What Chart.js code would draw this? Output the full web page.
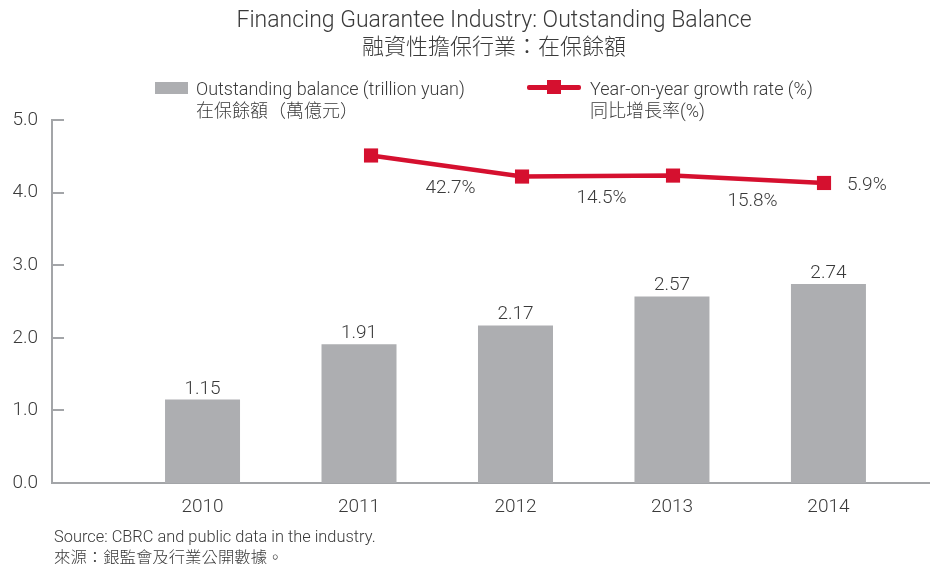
<!DOCTYPE html>
<html>
<head>
<meta charset="utf-8">
<script src="https://cdn.jsdelivr.net/npm/chart.js@4.4.1/dist/chart.umd.min.js"></script>
<style>
  html, body { margin: 0; padding: 0; background: #ffffff; }
  #wrap { position: relative; width: 930px; height: 564px; overflow: hidden; }
  #chart { position: absolute; left: 0; top: 0; }
  .t { position: absolute; white-space: nowrap; color: #3a3a3a;
       font-family: "Roboto", "Noto Sans CJK TC", "Noto Sans CJK SC", sans-serif; font-weight: 300; }
  .center { transform: translateX(-50%); text-align: center; }
  .sw { position: absolute; }
</style>
</head>
<body>
<div id="wrap">
  <canvas id="chart" width="930" height="564"></canvas>
  <div class="t center" style="left:494px; top:6px; font-size:23px; line-height:28px;">Financing Guarantee Industry: Outstanding Balance</div>
  <div class="t center" style="left:494px; top:34px; font-size:22px; line-height:26px;">融資性擔保行業：在保餘額</div>

  <div class="sw" style="left:155px; top:82px; width:33px; height:12px; background:#adaeb1;"></div>
  <div class="t" style="left:196px; top:78px; font-size:18px; line-height:22px;">Outstanding balance (trillion yuan)<br>在保餘額（萬億元）</div>

  <div class="sw" style="left:527px; top:85px; width:54px; height:5px; border-radius:2px; background:#d5102f;"></div>
  <div class="sw" style="left:547px; top:80px; width:14px; height:14px; background:#d5102f;"></div>
  <div class="t" style="left:590px; top:78px; font-size:18px; line-height:22px;">Year-on-year growth rate (%)<br>同比增長率(%)</div>

  <div class="t" style="left:54px; top:526px; font-size:16.4px; line-height:21px;">Source: CBRC and public data in the industry.<br>來源：銀監會及行業公開數據。</div>
</div>
<script>
const categories = ['2010', '2011', '2012', '2013', '2014'];
const years = [2010, 2011, 2012, 2013, 2014];
const balance = [1.15, 1.91, 2.17, 2.57, 2.74];
const growthYears = [2011, 2012, 2013, 2014];
const growth = [42.7, 14.5, 15.8, 5.9];
const yTicks = [0, 1, 2, 3, 4, 5];

const FONT = '"Roboto", "Noto Sans CJK TC", sans-serif';
const TEXT = '#3a3a3a';
const AXIS = '#a3a5a8';
const RED = '#d5102f';

const labelPlugin = {
  id: 'labels',
  afterDatasetsDraw(chart) {
    const ctx = chart.ctx;
    ctx.save();
    ctx.font = '300 19px ' + FONT;
    ctx.fillStyle = TEXT;
    ctx.textAlign = 'center';
    ctx.textBaseline = 'alphabetic';
    const bars = chart.getDatasetMeta(0).data;
    bars.forEach((el, i) => {
      ctx.fillText(balance[i].toFixed(2), el.x, el.y - 6);
    });
    const pts = chart.getDatasetMeta(1).data;
    pts.forEach((p, i) => {
      const txt = growth[i].toFixed(1) + '%';
      if (i < pts.length - 1) {
        const n = pts[i + 1];
        ctx.textAlign = 'center';
        ctx.fillText(txt, (p.x + n.x) / 2 + 4, (p.y + n.y) / 2 + 27);
      } else {
        ctx.textAlign = 'left';
        ctx.fillText(txt, p.x + 23, p.y + 7);
      }
    });
    ctx.restore();
  }
};

const inwardTicks = {
  id: 'inwardTicks',
  afterDraw(chart) {
    const ctx = chart.ctx;
    const y = chart.scales.y;
    const left = chart.chartArea.left;
    ctx.save();
    ctx.strokeStyle = AXIS;
    ctx.lineWidth = 2;
    yTicks.forEach(v => {
      const py = Math.round(y.getPixelForValue(v));
      ctx.beginPath();
      ctx.moveTo(left, py);
      ctx.lineTo(left + 12, py);
      ctx.stroke();
    });
    ctx.restore();
  }
};

new Chart(document.getElementById('chart'), {
  type: 'bar',
  data: {
    datasets: [
      {
        type: 'bar',
        data: years.map((x, i) => ({ x: x, y: balance[i] })),
        backgroundColor: '#adaeb1',
        grouped: false,
        maxBarThickness: 75,
        barPercentage: 0.9,
        categoryPercentage: 0.9,
        xAxisID: 'x',
        yAxisID: 'y',
        order: 2
      },
      {
        type: 'line',
        data: growthYears.map((x, i) => ({ x: x, y: growth[i] })),
        borderColor: RED,
        borderWidth: 4.5,
        pointStyle: 'rect',
        pointRadius: 10,
        pointBorderWidth: 0,
        pointBackgroundColor: RED,
        clip: false,
        xAxisID: 'x2',
        yAxisID: 'y2',
        order: 1
      }
    ]
  },
  options: {
    responsive: false,
    animation: false,
    events: [],
    layout: { autoPadding: false, padding: { top: 120, left: 0, right: 0, bottom: 0 } },
    plugins: { legend: { display: false }, tooltip: { enabled: false }, title: { display: false } },
    scales: {
      x: {
        type: 'linear',
        offset: false,
        min: 2009.038,
        max: 2014.649,
        afterBuildTicks: s => { s.ticks = years.map(v => ({ value: v })); },
        afterFit: s => { s.height = 81; },
        grid: { display: false, drawTicks: false, offset: false },
        border: { display: true, color: AXIS, width: 2 },
        ticks: {
          padding: 13,
          color: TEXT,
          font: { family: FONT, size: 19, weight: '300' },
          callback: v => categories[years.indexOf(v)]
        }
      },
      x2: {
        type: 'linear',
        display: false,
        offset: false,
        grid: { offset: false },
        min: 2008.887,
        max: 2014.702
      },
      y: {
        min: 0,
        max: 5,
        afterBuildTicks: s => { s.ticks = yTicks.map(v => ({ value: v })); },
        afterFit: s => { s.width = 52; },
        grid: { display: false, drawTicks: false },
        border: { display: true, color: AXIS, width: 2 },
        ticks: {
          padding: 14,
          color: TEXT,
          font: { family: FONT, size: 19, weight: '300' },
          callback: v => Number(v).toFixed(1)
        }
      },
      y2: {
        display: false,
        min: -395.7,
        max: 90.2
      }
    }
  },
  plugins: [labelPlugin, inwardTicks]
});
</script>
</body>
</html>
